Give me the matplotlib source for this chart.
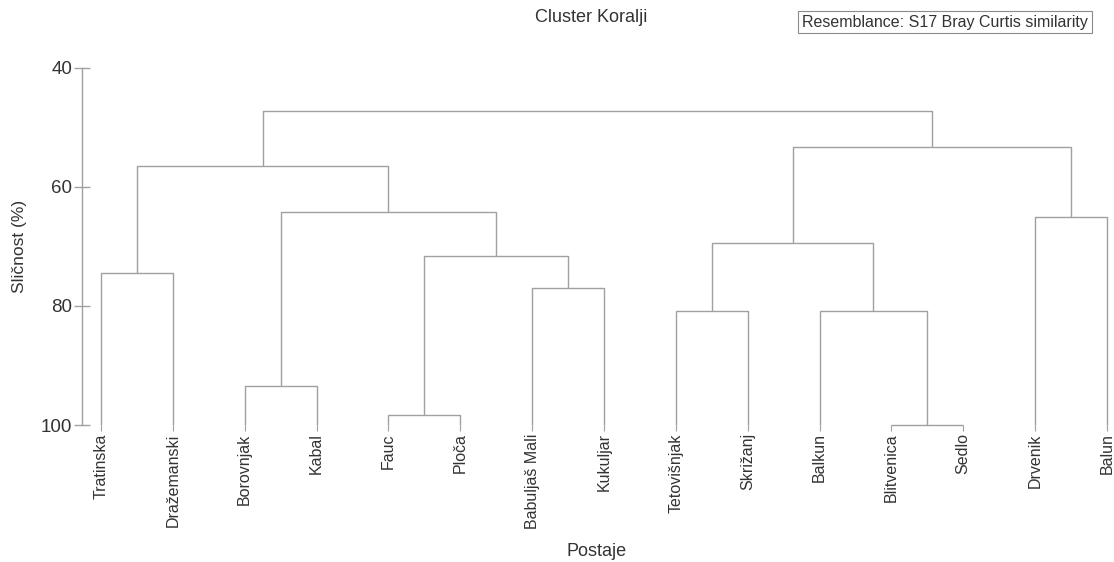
import matplotlib
matplotlib.use("Agg")
import matplotlib.pyplot as plt

plt.rcParams["font.family"] = ["Liberation Sans", "DejaVu Sans"]

# leaves in dendrogram order
stations = ["Tratinska", "Dražemanski", "Borovnjak", "Kabal", "Fauc", "Ploča",
            "Babuljaš Mali", "Kukuljar", "Tetovišnjak", "Skrižanj", "Balkun",
            "Blitvenica", "Sedlo", "Drvenik", "Balun"]

# merges: new node ids start at len(stations); similarity in %
merge_left = [11, 4, 2, 8, 10, 6, 0, 16, 18, 13, 17, 21, 23, 26]
merge_right = [12, 5, 3, 9, 15, 7, 1, 20, 19, 14, 22, 25, 24, 27]
merge_sim = [100.0, 98.3, 93.5, 80.8, 80.8, 77.0, 74.4, 71.6, 69.5, 65.0,
             64.2, 56.5, 53.4, 47.2]

line_col = "#a0a0a0"
text_col = "#333333"

fig = plt.figure(figsize=(11.14, 5.62), dpi=100)
ax = fig.add_axes([82 / 1114, 1 - 425 / 562, 1030 / 1114, (425 - 67.7) / 562])

n = len(stations)
pos = {i: float(i) for i in range(n)}
height = {i: 100.0 for i in range(n)}

for k, (a, b, h) in enumerate(zip(merge_left, merge_right, merge_sim)):
    node = n + k
    xa, xb = pos[a], pos[b]
    ax.plot([xa, xa, xb, xb], [height[a], h, h, height[b]],
            color=line_col, lw=1.0, clip_on=False, solid_capstyle="butt")
    pos[node] = (xa + xb) / 2
    height[node] = h

ax.set_xlim(-0.264, 14.07)
ax.set_ylim(100, 40)
ax.set_yticks([40, 60, 80, 100])
ax.set_xticks(range(n))
ax.set_xticklabels(stations, rotation=90, fontsize=11.5, color=text_col)

for s in ["top", "right", "bottom"]:
    ax.spines[s].set_visible(False)
ax.spines["left"].set_color(line_col)
ax.spines["left"].set_linewidth(1.0)

ax.tick_params(axis="y", direction="inout", length=12, width=1.0,
               colors=line_col, labelcolor=text_col, labelsize=13.5, pad=1)
ax.tick_params(axis="x", direction="out", length=4, width=0.8,
               colors=line_col, labelcolor=text_col, pad=2)

ax.set_ylabel("Sličnost (%)", fontsize=12.5, color=text_col, labelpad=10)
ax.set_xlabel("Postaje", fontsize=13, color=text_col, labelpad=10)

fig.text(591 / 1114, 1 - 18 / 562, "Cluster Koralji", fontsize=13,
         color=text_col, ha="center", va="center")
fig.text(945 / 1114, 1 - 22 / 562, "Resemblance: S17 Bray Curtis similarity",
         fontsize=11.5, color=text_col, ha="center", va="center",
         bbox=dict(boxstyle="square,pad=0.25", facecolor="white",
                   edgecolor="#8a8a8a", lw=0.8))

fig.savefig("out.png", dpi=100)
